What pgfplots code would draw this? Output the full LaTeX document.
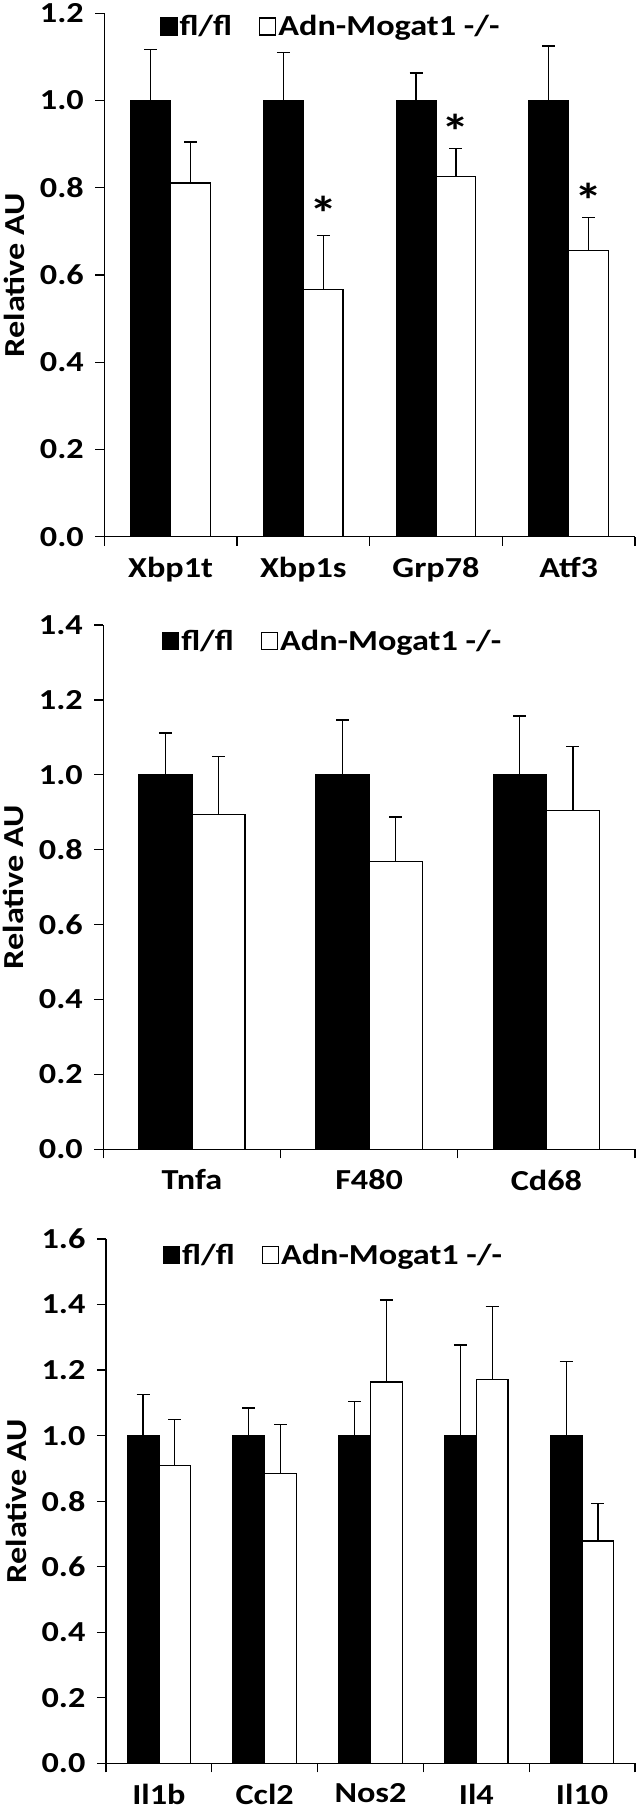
\documentclass[border=0pt]{standalone}
\usepackage{pgfplots}
\usepackage{pgfplotstable}
\pgfplotsset{compat=1.18}
\usepackage{fontspec}
\setmainfont{Carlito}[FakeStretch=1.18]

\pgfplotstableread{
x fl efl ko eko
0 1 0.117 0.811 0.094
1 1 0.110 0.567 0.123
2 1 0.063 0.826 0.064
3 1 0.125 0.656 0.076
}\dataA
\pgfplotstableread{
x fl efl ko eko
0 1 0.112 0.894 0.155
1 1 0.146 0.768 0.119
2 1 0.157 0.905 0.171
}\dataB
\pgfplotstableread{
x fl efl ko eko
0 1 0.125 0.909 0.141
1 1 0.084 0.885 0.150
2 1 0.105 1.164 0.250
3 1 0.277 1.172 0.222
4 1 0.226 0.678 0.115
}\dataC

\newcommand{\bigf}{\bfseries\fontsize{29}{31}\selectfont}

\pgfplotsset{
  panel/.style={
    scale only axis,
    axis x line=bottom, axis y line=left,
    axis line style={-, line width=1.3pt, black},
    every tick/.style={line width=1.3pt, black},
    tick align=outside,
    major tick length=9pt,
    enlargelimits=false,
    clip=false,
    ymin=0,
    ticklabel style={font=\bigf},
    yticklabel={\pgfmathprintnumber[fixed,fixed zerofill,precision=1,assume math mode=true]{\tick}},
    yticklabel style={xshift=-8pt},
    xticklabels={},
    extra x tick style={major tick length=0pt, xticklabel style={yshift=-17pt}},
    ylabel={Relative AU},
    every axis y label/.style={at={(rel axis cs:0,0.5)}, xshift=-90pt, rotate=90, anchor=center, font=\bigf},
    legend columns=2,
    legend style={draw=none, fill=none, inner sep=0pt, font=\bigf,
      /tikz/every even column/.append style={column sep=25pt},
      nodes={inner sep=2pt}},
    legend image code/.code={\draw[##1, line width=1.3pt] (0pt,-8.5pt) rectangle (16pt,8.5pt);},
  },
  errstyle/.style={error bars/.cd, y dir=plus, y explicit,
    error bar style={line width=1.3pt, black},
    error mark options={rotate=90, mark size=6.5pt, line width=1.3pt, black}},
  flbar/.style={ybar, bar width=0.3, bar shift=0pt, fill=black, draw=black, line width=1.3pt, errstyle},
  kobar/.style={ybar, bar width=0.3, bar shift=0pt, fill=white, draw=black, line width=1.3pt, errstyle},
}

\begin{document}
\begin{tikzpicture}
\useasboundingbox (0pt,0pt) rectangle (641pt,-1812pt);

% Panel 1
\begin{axis}[panel,
  at={(104.3pt,-536.7pt)}, anchor=south west,
  width=530.7pt, height=523.4pt,
  xmin=-0.5, xmax=3.5, ymax=1.2,
  xtick={-0.5,0.5,1.5,2.5,3.5},
  ytick={0,0.2,0.4,0.6,0.8,1.0,1.2},
  extra x ticks={0,1,2,3},
  extra x tick labels={Xbp1t,Xbp1s,Grp78,Atf3},
  legend style={at={(rel axis cs:0.105,1.0)}, anchor=north west},
]
\addplot[flbar] table[x expr=\thisrow{x}-0.15, y=fl, y error=efl] {\dataA};
\addlegendentry{fl/fl}
\addplot[kobar] table[x expr=\thisrow{x}+0.15, y=ko, y error=eko] {\dataA};
\addlegendentry{Adn-Mogat1 -/-}
\addplot[draw=none, mark=none, forget plot, nodes near coords={*},
  every node near coord/.append style={anchor=center, font=\bfseries\fontsize{48}{48}\selectfont}]
  coordinates {(1.15,0.742) (2.15,0.929) (3.15,0.772)};
\end{axis}

% Panel 2
\begin{axis}[panel,
  at={(103.3pt,-1149.3pt)}, anchor=south west,
  width=531.7pt, height=524.3pt,
  xmin=-0.5, xmax=2.5, ymax=1.4,
  xtick={-0.5,0.5,1.5,2.5},
  ytick={0,0.2,0.4,0.6,0.8,1.0,1.2,1.4},
  extra x ticks={0,1,2},
  extra x tick labels={Tnfa,F480,Cd68},
  legend style={at={(rel axis cs:0.11,0.995)}, anchor=north west},
]
\addplot[flbar] table[x expr=\thisrow{x}-0.15, y=fl, y error=efl] {\dataB};
\addlegendentry{fl/fl}
\addplot[kobar] table[x expr=\thisrow{x}+0.15, y=ko, y error=eko] {\dataB};
\addlegendentry{Adn-Mogat1 -/-}
\end{axis}

% Panel 3
\begin{axis}[panel,
  at={(106pt,-1763.3pt)}, anchor=south west,
  width=529pt, height=524.3pt,
  xmin=-0.5, xmax=4.5, ymax=1.6,
  xtick={-0.5,0.5,1.5,2.5,3.5,4.5},
  ytick={0,0.2,0.4,0.6,0.8,1.0,1.2,1.4,1.6},
  extra x ticks={0,1,2,3,4},
  extra x tick labels={Il1b,Ccl2,Nos2,Il4,Il10},
  legend style={at={(rel axis cs:0.107,0.995)}, anchor=north west},
]
\addplot[flbar] table[x expr=\thisrow{x}-0.15, y=fl, y error=efl] {\dataC};
\addlegendentry{fl/fl}
\addplot[kobar] table[x expr=\thisrow{x}+0.15, y=ko, y error=eko] {\dataC};
\addlegendentry{Adn-Mogat1 -/-}
\end{axis}
\end{tikzpicture}
\end{document}
